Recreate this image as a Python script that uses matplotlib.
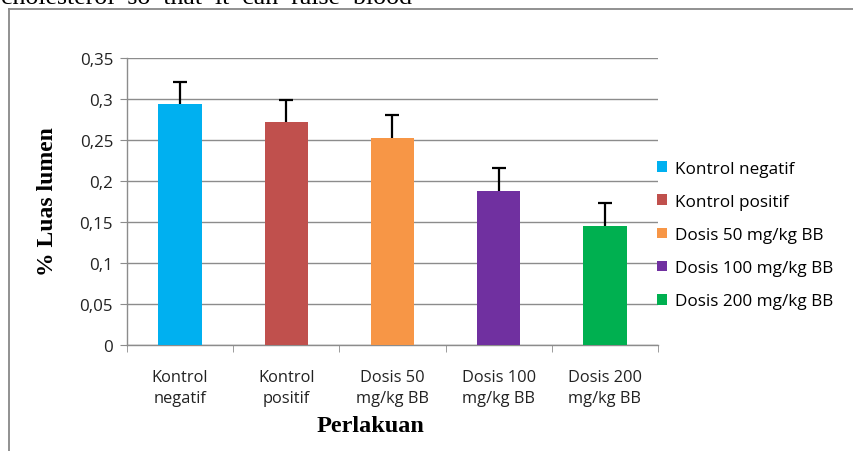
import matplotlib
matplotlib.use("Agg")
import matplotlib.pyplot as plt
from matplotlib.lines import Line2D
from matplotlib.patches import Patch

categories = ["Kontrol\nnegatif", "Kontrol\npositif", "Dosis 50\nmg/kg BB", "Dosis 100\nmg/kg BB", "Dosis 200\nmg/kg BB"]
legend_labels = ["Kontrol negatif", "Kontrol positif", "Dosis 50 mg/kg BB", "Dosis 100 mg/kg BB", "Dosis 200 mg/kg BB"]
values = [0.294, 0.272, 0.252, 0.188, 0.145]
errors = [0.027, 0.027, 0.028, 0.028, 0.028]
colors = ["#00B0F0", "#C0504D", "#F79646", "#7030A0", "#00B050"]
yticks = [0, 0.05, 0.1, 0.15, 0.2, 0.25, 0.3, 0.35]
ytick_labels = ["0", "0,05", "0,1", "0,15", "0,2", "0,25", "0,3", "0,35"]

W, H = 854, 452
fig = plt.figure(figsize=(W / 100, H / 100), dpi=100)
ax = fig.add_axes([127 / W, 1 - 346 / H, (658 - 127) / W, (346 - 59) / H])

x = list(range(len(values)))
cont = ax.bar(x, values, width=0.41, color=colors, zorder=3,
              yerr=[[0] * len(errors), errors],
              error_kw=dict(ecolor="black", elinewidth=1.6, capsize=5, capthick=1.6, zorder=4))
# hide the lower caps (plus-only error bars)
caps = cont.errorbar.lines[1]
if len(caps) == 2:
    caps[0].set_visible(False)

ax.set_xlim(-0.5, 4.5)
ax.set_ylim(0, 0.35)
ax.set_yticks(yticks)
ax.set_yticklabels(ytick_labels)
ax.yaxis.grid(True, color="#8c8c8c", linewidth=1.0, zorder=0)
ax.set_axisbelow(True)

FS = 11.8
ax.set_xticks(x)
ax.set_xticklabels(categories, fontfamily="Open Sans", fontsize=FS, color="#222222", linespacing=1.45)
ax.set_xticks([i - 0.5 for i in range(6)], minor=True)
ax.tick_params(axis="x", which="major", length=0, pad=17)
ax.tick_params(axis="x", which="minor", length=5, color="#8c8c8c", direction="out")
ax.tick_params(axis="y", length=5, color="#8c8c8c", pad=5)
for lab in ax.get_yticklabels():
    lab.set_fontfamily("Open Sans")
    lab.set_fontsize(12.2)
    lab.set_color("#222222")

for s in ["top", "right"]:
    ax.spines[s].set_visible(False)
for s in ["left", "bottom"]:
    ax.spines[s].set_color("#8c8c8c")
    ax.spines[s].set_linewidth(1.0)

fig.text(48 / W, 1 - 202 / H, "% Luas lumen", rotation=90, ha="center", va="center",
         fontfamily="Liberation Serif", fontweight="bold", fontsize=17)
fig.text(370 / W, 1 - 427 / H, "Perlakuan", ha="center", va="center",
         fontfamily="Liberation Serif", fontweight="bold", fontsize=17.5)

handles = [Patch(facecolor=c, edgecolor="none") for c in colors]
fig.legend(handles, legend_labels, loc="upper left", bbox_to_anchor=(650 / W, 1 - 155 / H),
           frameon=False, prop=dict(family="Open Sans", size=12.3), handlelength=0.6, handleheight=0.6,
           handletextpad=0.45, labelspacing=1.0, borderaxespad=0)

# frame of the screenshot
fig.add_artist(Line2D([8.5 / W, 8.5 / W], [0, 1 - 10 / H], color="#888888", linewidth=1.3))
fig.add_artist(Line2D([8.5 / W, 1], [1 - 10 / H, 1 - 10 / H], color="#888888", linewidth=1.3))

# cut-off body text above the chart
fig.text(1 / W, 1 - 4 / H, "cholesterol  so  that  it  can  raise  blood", ha="left", va="baseline",
         fontfamily="Liberation Serif", fontsize=18.6, color="black")

fig.savefig("out.png", dpi=100)
